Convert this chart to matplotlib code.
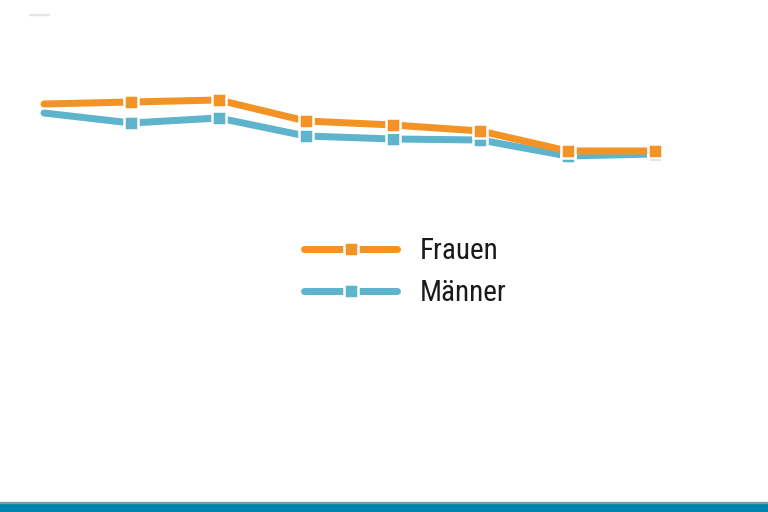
import matplotlib.pyplot as plt
from matplotlib.patches import Rectangle
from matplotlib import font_manager

# Werte (ohne sichtbare Achse, aus dem Bild geschätzt)
jahre = list(range(8))
frauen = [9.6, 9.8, 10.0, 7.9, 7.5, 6.9, 4.9, 4.9]
maenner = [8.7, 7.7, 8.2, 6.4, 6.1, 6.0, 4.4, 4.6]
labels = ['Frauen', 'Männer']

ORANGE = '#F39325'
TEAL = '#5EB4CC'
DPI = 100

def px(p):
    return p * 72 / DPI

# schmale Schrift suchen
fam = 'DejaVu Sans'
names = {f.name for f in font_manager.fontManager.ttflist}
for cand in ['Liberation Sans Narrow', 'Roboto Condensed', 'Open Sans Condensed']:
    if cand in names:
        fam = cand
        break

fig = plt.figure(figsize=(7.68, 5.12), dpi=DPI)
ax = fig.add_axes([0, 0, 1, 1])
ax.set_axis_off()

style = dict(lw=px(7), marker='s', ms=px(14), mew=px(2.5), mec='white',
             solid_capstyle='round', markevery=list(range(1, 8)))
l_m, = ax.plot(jahre, maenner, color=TEAL, mfc=TEAL, label=labels[1], **style)
l_f, = ax.plot(jahre, frauen, color=ORANGE, mfc=ORANGE, label=labels[0], **style)

ax.set_xlim(-0.504, 8.295)
ax.set_ylim(-31.2, 20)

fig.legend([l_f, l_m], labels, loc='center left',
           bbox_to_anchor=(304 / 768, 1 - 272 / 512), frameon=False,
           numpoints=1, handlelength=3.19, handletextpad=0.78,
           labelspacing=0.47, borderpad=0, borderaxespad=0,
           prop={'family': [fam, 'DejaVu Sans'], 'size': 21, 'stretch': 'condensed'})
for t in fig.legends[0].get_texts():
    t.set_color('#1a1a1a')

# Band unten
fig.patches.append(Rectangle((0, 0), 1, 9 / 512, transform=fig.transFigure,
                             color='#0083AD', zorder=0))
fig.patches.append(Rectangle((0, 9 / 512), 1, 1 / 512, transform=fig.transFigure,
                             color='#7a9aa8', zorder=0))
# schwache Linie oben links
fig.patches.append(Rectangle((29 / 768, 1 - 15 / 512), 20 / 768, 1 / 512,
                             transform=fig.transFigure, color='#e6e6e6', zorder=0))

fig.savefig('out.png', dpi=DPI)
